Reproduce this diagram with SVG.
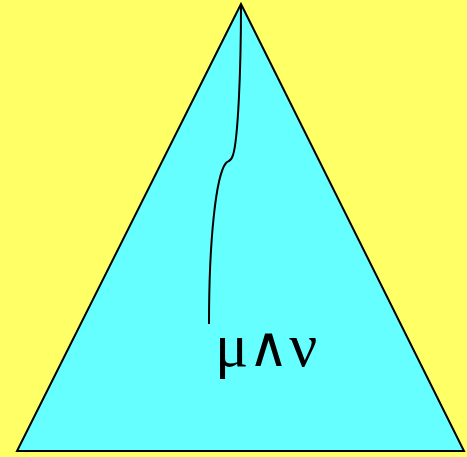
<svg xmlns="http://www.w3.org/2000/svg" width="467" height="457" viewBox="0 0 467 457">
<style>
.bg{fill:#FFFF66}
.tri{fill:#66FFFF;stroke:#000;stroke-width:2;stroke-linejoin:miter}
.curve{fill:none;stroke:#000;stroke-width:2}
.lbl{font-family:"Liberation Serif","Times New Roman",serif;font-size:62px;fill:#000}
.op{font-family:"DejaVu Sans ExtraLight","DejaVu Sans",sans-serif;font-weight:200;font-size:56px}
</style>
<rect class="bg" x="0" y="0" width="467" height="457"/>
<g id="triangle">
<polygon class="tri" points="241,4 17,451 464,451"/>
</g>
<g id="connectors">
<path class="curve" d="M241,5 C241,70 238,140 233,155 C231,162 229,160 226,163 C216,175 209,240 209,324"/>
</g>
<g id="label">
<text class="lbl" x="215" y="366">μ<tspan class="op" dx="0">∧</tspan><tspan dx="0">ν</tspan></text>
</g>
</svg>
